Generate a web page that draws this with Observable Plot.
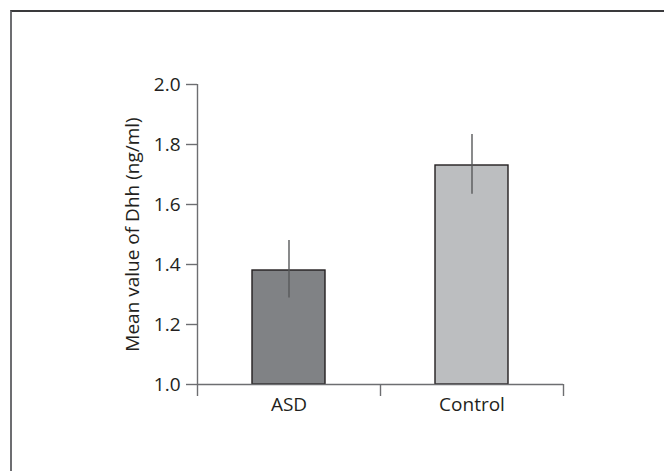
<!DOCTYPE html>
<html>
<head>
<meta charset="utf-8">
<script src="https://cdn.jsdelivr.net/npm/d3@7"></script>
<script src="https://cdn.jsdelivr.net/npm/@observablehq/plot@0.6"></script>
<style>
  html, body { margin: 0; padding: 0; background: #fff; }
  #wrap { position: relative; width: 664px; height: 471px; overflow: hidden; }
  #frame { position: absolute; left: 10px; top: 10px; right: -10px; bottom: -10px;
           border-left: 2px solid #6d6e71; border-top: 2px solid #3a3a3c; }
  #chart { position: absolute; left: 0; top: 0; }
</style>
</head>
<body>
<div id="wrap"><div id="frame"></div><div id="chart"></div></div>
<script>
const groups = ["ASD", "Control"];
const means = [1.38, 1.73];
const errLow = [1.288, 1.634];
const errHigh = [1.48, 1.833];
const fills = ["#808285", "#bcbec0"];
const yTicks = [1.0, 1.2, 1.4, 1.6, 1.8, 2.0];
const baseline = 1.0;
const yLabel = "Mean value of Dhh (ng/ml)";

const data = groups.map((g, i) => ({group: g, mean: means[i], lo: errLow[i], hi: errHigh[i], fill: fills[i]}));

const W = 664, H = 471, mL = 197, mR = 101, mT = 84, mB = 87;
const step = (W - mL - mR) / groups.length;
const axisColor = "#6d6e71";
const textColor = "#231f20";
const fs = 19;

const plot = Plot.plot({
  width: W, height: H,
  marginLeft: mL, marginRight: mR, marginTop: mT, marginBottom: mB,
  style: {fontFamily: "'Open Sans', sans-serif", fontSize: fs + "px", color: textColor, background: "transparent", overflow: "visible"},
  x: {domain: groups, paddingInner: 0.6, paddingOuter: 0.3},
  y: {domain: [1, 2]},
  marks: [
    Plot.barY(data, {x: "group", y1: () => baseline, y2: "mean", fill: "fill", stroke: textColor, strokeWidth: 1.4}),
    Plot.ruleX(data, {x: "group", y1: "lo", y2: "hi", stroke: "#58595b", strokeWidth: 1.4}),
    Plot.ruleY([baseline], {stroke: axisColor, strokeWidth: 1.4}),
    Plot.ruleX([groups[0]], {dx: -step / 2, stroke: axisColor, strokeWidth: 1.4}),
    Plot.axisY({ticks: yTicks, tickFormat: d3.format(".1f"), tickSize: 11, tickPadding: 6,
      stroke: axisColor, strokeWidth: 1.4, fill: textColor, fontSize: fs,
      label: yLabel, labelAnchor: "center", labelArrow: "none", labelOffset: 72}),
    Plot.axisX({ticks: groups, tickSize: 0, tickPadding: 13, fill: textColor, fontSize: fs, label: null}),
    Plot.axisX({ticks: groups, tickSize: 12, text: null, dx: -step / 2, stroke: axisColor, strokeWidth: 1.4, label: null}),
    Plot.axisX({ticks: [groups[groups.length - 1]], tickSize: 12, text: null, dx: step / 2, stroke: axisColor, strokeWidth: 1.4, label: null})
  ]
});
document.getElementById("chart").appendChild(plot);
</script>
</body>
</html>
